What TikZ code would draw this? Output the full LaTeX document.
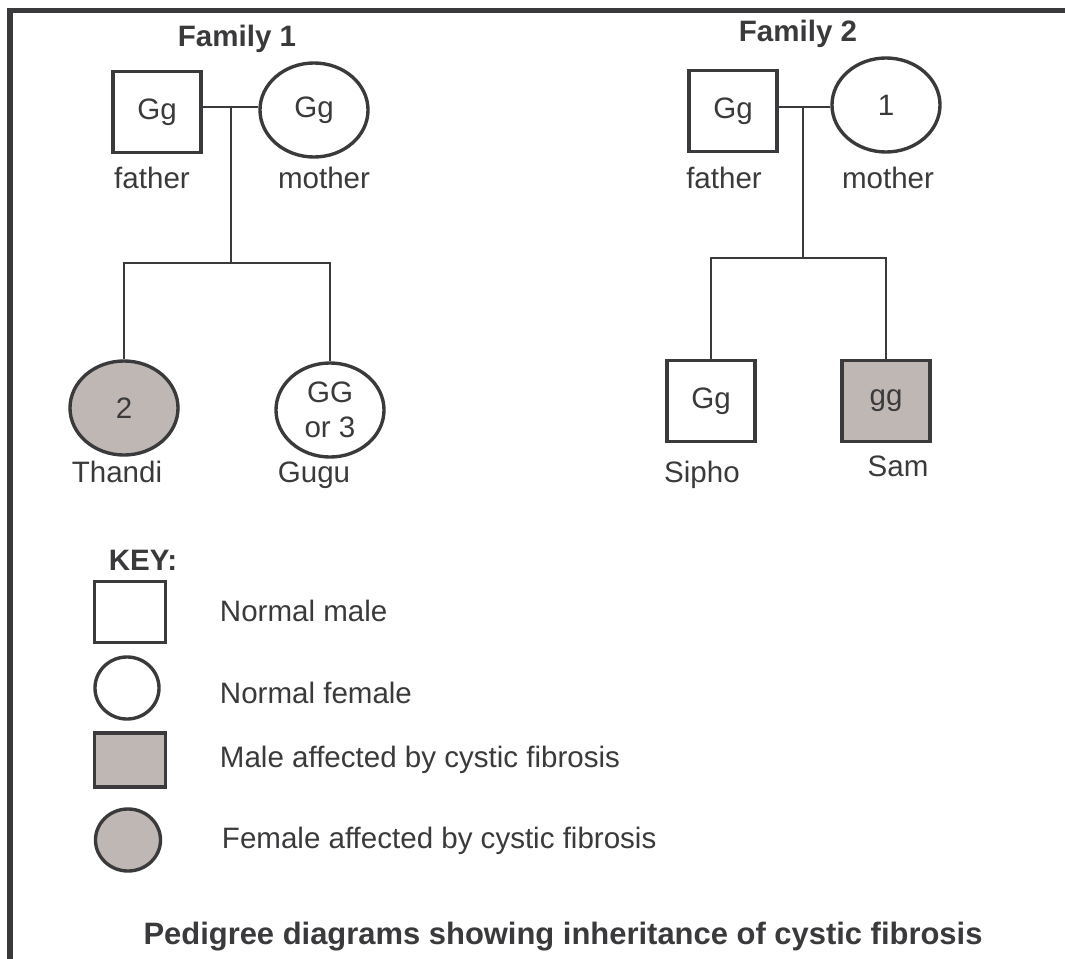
\documentclass[tikz,border=0pt]{standalone}
\usepackage{fontspec}
\setmainfont{Liberation Sans}
\usetikzlibrary{shapes.geometric, positioning}
\definecolor{inkgray}{RGB}{58,58,60}
\definecolor{cfgray}{RGB}{191,183,180}
\tikzstyle{male} = [rectangle, draw=inkgray, line width=2.4pt, minimum width=2.2cm, minimum height=2.025cm, inner sep=0pt, fill=white, text=inkgray, font=\fontsize{21}{25}\selectfont]
\tikzstyle{female} = [ellipse, draw=inkgray, line width=2.4pt, minimum width=2.7cm, minimum height=2.35cm, inner sep=0pt, fill=white, text=inkgray, font=\fontsize{21}{25}\selectfont]
\tikzstyle{pname} = [anchor=base, text=inkgray, font=\fontsize{21}{25}\selectfont]
\tikzstyle{headline} = [anchor=base, text=inkgray, font=\bfseries\fontsize{21}{25}\selectfont]
\tikzstyle{keytext} = [anchor=base west, text=inkgray, font=\fontsize{21}{25}\selectfont]
\tikzstyle{link} = [draw=inkgray, line width=1.4pt]

\begin{document}
\begin{tikzpicture}[x=0.025cm, y=-0.025cm]
\useasboundingbox (0,0) rectangle (1065,959);

% Frame
\draw[line width=3.9pt, inkgray] (10,959) -- (10,10.5) -- (1065,10.5);

% Family 1
\node[headline] (fam1) at (237,47) {Family 1};
\node[male] (f1dad) at (157,112) {Gg};
\node[female] (f1mum) at (314,110) {Gg};
\node[pname] (f1dadlbl) at (152,188) {father};
\node[pname] (f1mumlbl) at (324,188) {mother};
\node[female, fill=cfgray] (thandi) at (124,408) {2};
\node[female, align=center] (gugu) at (330,410) {GG\\or 3};
\node[pname] (thandilbl) at (117,482) {Thandi};
\node[pname] (gugulbl) at (314,482) {Gugu};
\coordinate (f1mate) at (231,107);
\coordinate (f1sib) at (231,263);
\draw[link] (f1dad.east |- f1mate) -- (f1mum.west |- f1mate);
\draw[link] (f1mate) -- (f1sib);
\draw[link] (thandi.north) -- (thandi.north |- f1sib) -- (gugu.north |- f1sib) -- (gugu.north);

% Family 2
\node[headline] (fam2) at (798,42) {Family 2};
\node[male] (f2dad) at (733,111) {Gg};
\node[female] (f2mum) at (886,105) {1};
\node[pname] (f2dadlbl) at (724,188) {father};
\node[pname] (f2mumlbl) at (888,188) {mother};
\node[male] (sipho) at (711,401) {Gg};
\node[male, fill=cfgray] (sam) at (886,401) {gg};
\node[pname] (sipholbl) at (702,482) {Sipho};
\node[pname] (samlbl) at (898,476) {Sam};
\coordinate (f2mate) at (803,107);
\coordinate (f2sib) at (803,258);
\draw[link] (f2dad.east |- f2mate) -- (f2mum.west |- f2mate);
\draw[link] (f2mate) -- (f2sib);
\draw[link] (sipho.north) -- (sipho.north |- f2sib) -- (sam.north |- f2sib) -- (sam.north);

% Key
\node[headline] (keytitle) at (143,570) {KEY:};
\node[male, minimum width=1.775cm, minimum height=1.525cm] (keymale) at (130,612) {};
\node[female, minimum width=1.6cm, minimum height=1.55cm] (keyfemale) at (127,688) {};
\node[male, fill=cfgray, minimum width=1.775cm, minimum height=1.35cm] (keycfmale) at (130,760) {};
\node[female, fill=cfgray, minimum width=1.625cm, minimum height=1.55cm] (keycffemale) at (128,840) {};
\node[keytext] (keymaletxt) at (215,621) {Normal male};
\node[keytext] (keyfemaletxt) at (215,703) {Normal female};
\node[keytext] (keycfmaletxt) at (215,767) {Male affected by cystic fibrosis};
\node[keytext] (keycffemaletxt) at (217,848) {Female affected by cystic fibrosis};

% Caption
\node[headline, font=\bfseries\fontsize{22}{26}\selectfont] (caption) at (563,944) {Pedigree diagrams showing inheritance of cystic fibrosis};

\end{tikzpicture}
\end{document}
